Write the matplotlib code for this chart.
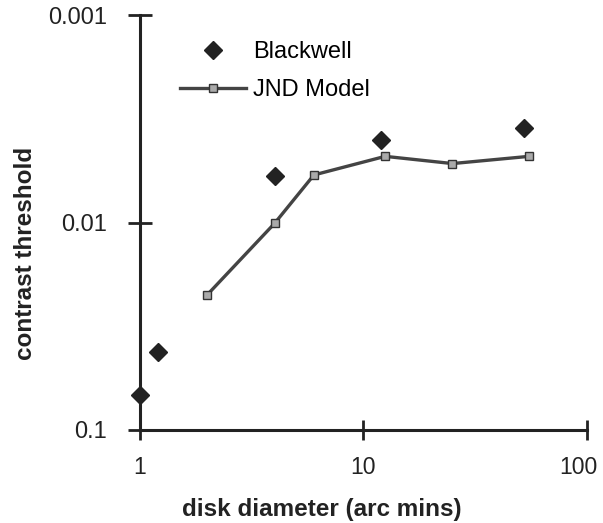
import matplotlib
matplotlib.use('Agg')
import matplotlib.pyplot as plt
from matplotlib.transforms import ScaledTranslation

plt.rcParams['font.family'] = ['Liberation Sans', 'DejaVu Sans']

# Blackwell data (diamonds)
bw_diam = [1.0, 1.2, 4.0, 12.0, 52.0]
bw_thresh = [0.068, 0.042, 0.0060, 0.0040, 0.0035]

# JND model (line with small squares)
jnd_diam = [2.0, 4.0, 6.0, 12.5, 25.0, 55.0]
jnd_thresh = [0.0223, 0.0101, 0.0059, 0.0048, 0.0052, 0.0048]

xticks = [1, 10, 100]
xtick_labels = ['1', '10', '100']
yticks = [0.001, 0.01, 0.1]
ytick_labels = ['0.001', '0.01', '0.1']

fig = plt.figure(figsize=(6.03, 5.23), dpi=100)
ax = fig.add_axes([140/603, 1-430/523, 447/603, 415/523])

ax.plot(bw_diam, bw_thresh, linestyle='none', marker='D', markersize=9.5,
        color='#222222', label='Blackwell', clip_on=False, zorder=3)
ax.plot(jnd_diam, jnd_thresh, color='#444444', linewidth=2.4, linestyle='-',
        marker='s', markersize=5.5, markerfacecolor='#aaaaaa',
        markeredgecolor='#333333', markeredgewidth=1, label='JND Model')

ax.set_xscale('log')
ax.set_yscale('log')
ax.set_xlim(1, 100)
ax.set_ylim(0.1, 0.001)   # inverted: smaller threshold at top
ax.minorticks_off()
ax.set_xticks(xticks, xtick_labels)
ax.set_yticks(yticks, ytick_labels)

for s in ['top', 'right']:
    ax.spines[s].set_visible(False)
for s in ['left', 'bottom']:
    ax.spines[s].set_linewidth(2.2)
    ax.spines[s].set_color('#222222')

ax.tick_params(axis='y', direction='inout', length=17, width=2, pad=15,
               labelsize=17, colors='#222222')
ax.tick_params(axis='x', direction='inout', length=14, width=2, pad=12,
               labelsize=16.5, colors='#222222')

# nudge the "100" label left so it stays inside the figure
lab = ax.get_xticklabels()[-1]
lab.set_transform(lab.get_transform() + ScaledTranslation(-6/72, 0, fig.dpi_scale_trans))

ax.set_xlabel('disk diameter (arc mins)', fontsize=17.5, fontweight='bold', color='#222222')
ax.set_ylabel('contrast threshold', fontsize=17.5, fontweight='bold', color='#222222')
ax.xaxis.set_label_coords(0.407, -0.164)
ax.yaxis.set_label_coords(-0.23, 0.425)

ax.legend(loc='upper left', bbox_to_anchor=(180/603, 1-41/523),
          bbox_transform=fig.transFigure, frameon=False, fontsize=17,
          numpoints=1, handlelength=2.8, handletextpad=0.3,
          borderpad=0, borderaxespad=0, labelspacing=0.68)

plt.savefig('out.png', dpi=100)
